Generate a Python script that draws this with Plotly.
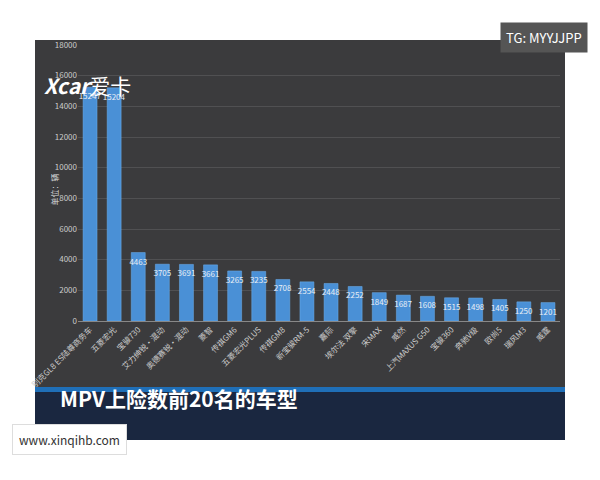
import plotly.graph_objects as go

cars = ["别克GL8 ES陆尊商务车", "五菱宏光", "宝骏730", "艾力绅锐·混动", "奥德赛锐·混动", "菱智",
        "传祺GM6", "五菱宏光PLUS", "传祺GM8", "新宝骏RM-5", "嘉际", "埃尔法 双擎", "宋MAX",
        "威然", "上汽MAXUS G50", "宝骏360", "奔驰V级", "欧尚5", "瑞风M3", "威霆"]
sales = [15247, 15204, 4463, 3705, 3691, 3661, 3265, 3235, 2708, 2554, 2448, 2252, 1849,
         1687, 1608, 1515, 1498, 1405, 1250, 1201]
y_ticks = [0, 2000, 4000, 6000, 8000, 10000, 12000, 14000, 16000, 18000]

W, H = 600, 480
OFF = 8  # page body margin
L, R, T, B = 70, 48, 37, 167


def px(x):
    return (x - OFF - L) / (W - L - R)


def py(y):
    return 1 - (y - OFF - T) / (H - T - B)


fig = go.Figure(go.Bar(
    x=cars, y=sales, text=sales, textposition="inside", insidetextanchor="end",
    textangle=0, textfont=dict(color="#e8eef5", size=8), constraintext="none",
    marker=dict(color="#4a90d6", line=dict(color="#6fb0ee", width=0.5)), width=0.58,
))

shapes = [
    dict(type="rect", xref="paper", yref="paper", x0=px(35), x1=px(565), y0=py(440), y1=py(40),
         fillcolor="#3b3b3d", line_width=0, layer="below"),
    dict(type="rect", xref="paper", yref="paper", x0=px(35), x1=px(565), y0=py(440), y1=py(390),
         fillcolor="#1a2740", line_width=0, layer="above"),
    dict(type="rect", xref="paper", yref="paper", x0=px(35), x1=px(565), y0=py(392), y1=py(387),
         fillcolor="#1f6fb8", line_width=0, layer="above"),
]

annotations = [
    dict(text="<b>MPV上险数前20名的车型</b>", x=px(58), y=py(415), xref="paper", yref="paper",
         xanchor="left", showarrow=False, font=dict(size=21, color="white", family="Noto Sans CJK SC")),
    dict(text="www.xinqihb.com", x=px(12), y=py(455), xref="paper", yref="paper",
         xanchor="left", showarrow=False, bgcolor="white", borderpad=6, bordercolor="#dddddd",
         font=dict(size=12, color="#333333")),
    dict(text="TG: MYYJJPP", x=px(588), y=py(22), xref="paper", yref="paper", xanchor="right",
         showarrow=False, bgcolor="#555555", borderpad=5, font=dict(size=13, color="white")),
    dict(text="<b><i>Xcar</i></b>爱卡", x=px(42), y=py(68), xref="paper", yref="paper",
         xanchor="left", showarrow=False, font=dict(size=21, color="white")),
    dict(text="单位：辆", x=px(46), y=py(190), xref="paper", yref="paper",
         textangle=-90, showarrow=False, font=dict(size=8, color="#dddddd")),
]

fig.update_layout(
    width=W, height=H, margin=dict(l=L, r=R, t=T, b=B),
    paper_bgcolor="white", plot_bgcolor="rgba(0,0,0,0)",
    font=dict(family="Noto Sans CJK SC", color="#cccccc", size=8),
    showlegend=False, shapes=shapes, annotations=annotations, bargap=0.42,
    uniformtext=dict(minsize=8, mode="show"),
)
fig.update_xaxes(tickangle=-45, tickfont=dict(size=8, color="#cccccc"), showline=True,
                 linecolor="#888888", ticks="")
fig.update_yaxes(range=[0, 18000], tickvals=y_ticks, tickformat="d", gridcolor="#505052",
                 zeroline=False, tickfont=dict(size=8, color="#cccccc"))

fig.write_html("out.html")
